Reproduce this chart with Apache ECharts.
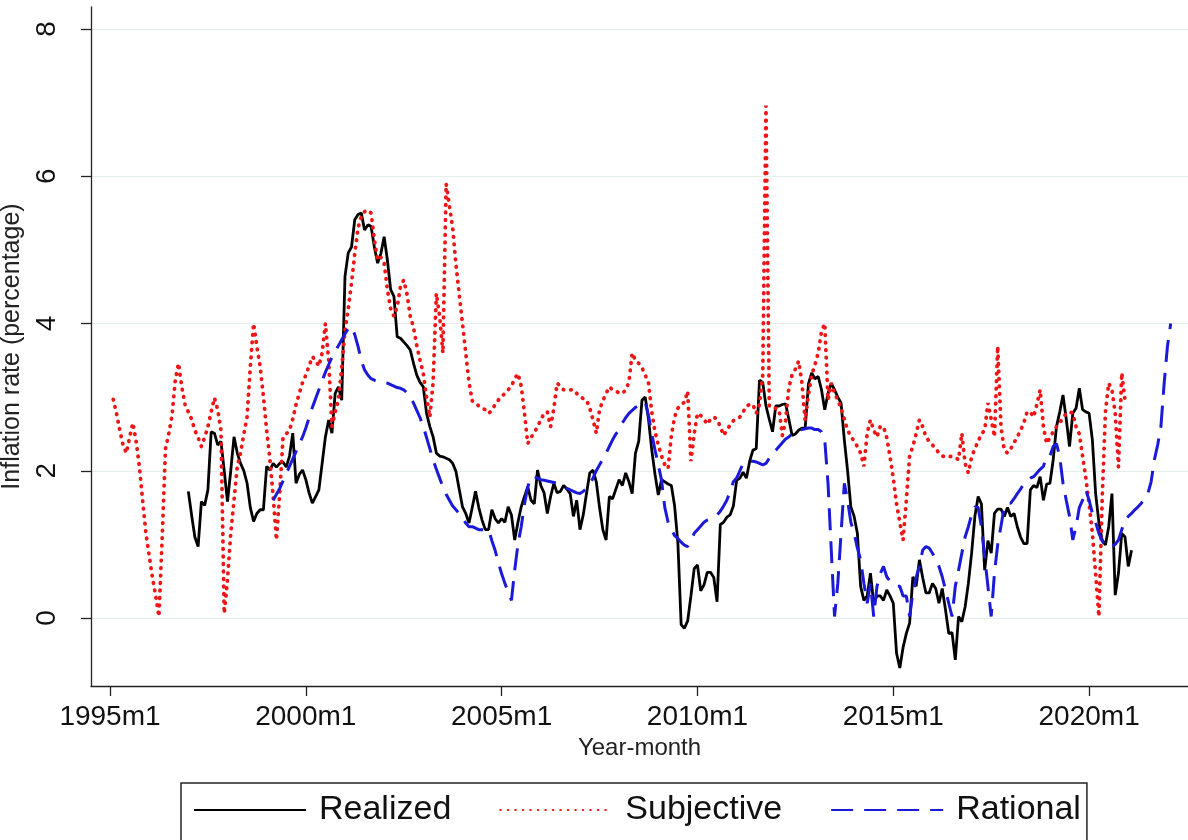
<!DOCTYPE html>
<html><head><meta charset="utf-8">
<script src="https://cdn.jsdelivr.net/npm/echarts@6/dist/echarts.min.js"></script>
<style>html,body{margin:0;padding:0;background:#fff}#c{width:1188px;height:840px}</style>
</head><body><div id="c"></div>
<script>
// x values are months since 1995m1
const xTickValues = [0, 60, 120, 180, 240, 300];
const xTickLabels = ['1995m1', '2000m1', '2005m1', '2010m1', '2015m1', '2020m1'];
const yTickValues = [0, 2, 4, 6, 8];

const realizedStart = 24; // 1997m1
const realized = [
  1.72, 1.4, 1.1, 0.97, 1.58, 1.53, 1.74, 2.53, 2.51, 2.35, 2.4, 2.0,
  1.58, 2.0, 2.46, 2.24, 2.1, 2.0, 1.83, 1.5, 1.31, 1.42, 1.47, 1.47,
  2.06, 2.01, 2.1, 2.05, 2.10, 2.12, 2.05, 2.2, 2.51, 1.83, 1.95, 2.01,
  1.88, 1.7, 1.56, 1.65, 1.74, 2.1, 2.46, 2.69, 2.51, 3.05, 3.14, 2.96,
  4.64, 4.96, 5.04, 5.41, 5.48, 5.5, 5.27, 5.34, 5.32, 5.04, 4.82, 4.95,
  5.18, 4.86, 4.46, 4.37, 3.82, 3.8, 3.75, 3.7, 3.64, 3.46, 3.3, 3.2,
  3.14, 2.78, 2.6, 2.46, 2.24, 2.2, 2.19, 2.17, 2.15, 2.1, 1.99, 1.75,
  1.51, 1.42, 1.29, 1.5, 1.72, 1.5, 1.33, 1.2, 1.2, 1.47, 1.35, 1.29,
  1.35, 1.3, 1.51, 1.4, 1.06, 1.3, 1.51, 1.65, 1.78, 1.6, 1.55, 2.01,
  1.8, 1.7, 1.42, 1.65, 1.83, 1.7, 1.72, 1.8, 1.75, 1.69, 1.38, 1.6,
  1.2, 1.4, 1.69, 1.97, 2.01, 1.85, 1.5, 1.2, 1.06, 1.65, 1.62, 1.75,
  1.88, 1.8, 1.97, 1.85, 1.69, 2.24, 2.4, 2.96, 3.0, 2.7, 2.28, 1.95,
  1.67, 1.88, 1.85, 1.82, 1.8, 1.52, 1.02, -0.09, -0.14, -0.04, 0.3, 0.67,
  0.72, 0.37, 0.45, 0.62, 0.62, 0.55, 0.22, 1.27, 1.3, 1.37, 1.4, 1.52,
  1.87, 1.9, 1.98, 1.9, 2.13, 2.28, 2.3, 3.23, 3.2, 2.88, 2.7, 2.53,
  2.88, 2.88, 2.9, 2.91, 2.7, 2.48, 2.5, 2.55, 2.58, 2.58, 3.18, 3.33,
  3.25, 3.28, 3.1, 2.83, 3.05, 3.19, 3.1, 3.0, 2.92, 2.42, 2.0, 1.51,
  1.38, 1.15, 0.43, 0.24, 0.3, 0.61, 0.2, 0.3, 0.3, 0.24, 0.38, 0.3,
  0.2, -0.48, -0.68, -0.4, -0.21, -0.07, 0.56, 0.43, 0.79, 0.55, 0.34, 0.34,
  0.47, 0.4, 0.2, 0.4, 0.11, -0.21, -0.2, -0.57, 0.02, -0.05, 0.15, 0.47,
  0.88, 1.38, 1.65, 1.55, 0.65, 1.05, 0.88, 1.42, 1.48, 1.48, 1.38, 1.5,
  1.38, 1.42, 1.24, 1.1, 1.01, 1.01, 1.74, 1.8, 1.77, 1.92, 1.6, 1.82,
  1.83, 2.15, 2.6, 2.8, 3.03, 2.7, 2.33, 2.78, 2.85, 3.12, 2.83, 2.8,
  2.78, 2.42, 1.69, 1.3, 1.06, 0.99, 1.24, 1.69, 0.31, 0.61, 1.15, 1.1,
  0.7, 0.92
];

const subjectiveStart = 1; // 1995m2
const subjective = [
  2.97, 2.78, 2.55, 2.35, 2.24, 2.45, 2.65, 2.4, 2.06, 1.6, 1.15,
  0.85, 0.55, 0.3, 0.02, 1.1, 2.3, 2.5, 2.75, 3.23, 3.46, 3.14, 2.9,
  2.8, 2.7, 2.55, 2.45, 2.33, 2.45, 2.6, 2.8, 2.99, 2.83, 2.55, 0.06,
  0.52, 1.15, 1.6, 2.06, 2.24, 2.5, 2.73, 3.42, 4.0, 3.69, 3.42, 3.01,
  2.55, 2.15, 1.65, 1.06, 1.69, 2.44, 2.5, 2.55, 2.7, 2.9, 3.05, 3.2,
  3.3, 3.42, 3.55, 3.5, 3.42, 3.6, 4.0, 3.5, 2.6, 2.8, 2.96, 3.4,
  3.9, 4.2, 4.55, 4.95, 5.3, 5.45, 5.52, 5.54, 5.5, 5.14, 4.86, 4.9,
  4.82, 4.46, 4.2, 4.1, 4.23, 4.5, 4.59, 4.4, 4.1, 3.95, 3.7, 3.5,
  3.32, 3.0, 2.73, 3.2, 4.41, 4.1, 3.6, 5.9, 5.6, 5.3, 4.8, 4.4,
  4.0, 3.6, 3.2, 2.95, 2.92, 2.88, 2.85, 2.83, 2.78, 2.82, 2.9, 2.96,
  3.01, 3.05, 3.1, 3.15, 3.25, 3.32, 3.15, 2.78, 2.37, 2.45, 2.52, 2.6,
  2.69, 2.78, 2.8, 2.6, 2.85, 3.19, 3.15, 3.1, 3.1, 3.1, 3.1, 3.05,
  3.01, 2.98, 2.96, 2.85, 2.69, 2.51, 2.83, 2.95, 3.05, 3.14, 3.1, 3.08,
  3.06, 3.05, 3.1, 3.2, 3.6, 3.5, 3.46, 3.4, 3.3, 3.19, 2.8, 2.53,
  2.35, 2.2, 2.08, 2.03, 2.48, 2.73, 2.85, 2.9, 2.93, 3.08, 2.13, 2.5,
  2.78, 2.75, 2.7, 2.63, 2.7, 2.73, 2.7, 2.6, 2.48, 2.55, 2.62, 2.68,
  2.7, 2.73, 2.8, 2.88, 2.9, 2.9, 2.78, 2.9, 3.3, 6.96, 2.88, 2.85,
  2.85, 2.83, 2.48, 2.68, 3.13, 3.3, 3.38, 3.49, 3.2, 2.68, 3.03, 3.3,
  3.44, 3.6, 3.89, 4.0, 2.96, 3.19, 3.05, 2.96, 2.85, 2.7, 2.55, 2.47,
  2.4, 2.33, 2.24, 2.06, 2.51, 2.69, 2.55, 2.46, 2.6, 2.6, 2.45, 2.19,
  1.9, 1.55, 1.3, 1.06, 1.6, 2.2, 2.33, 2.5, 2.69, 2.6, 2.46, 2.4,
  2.35, 2.3, 2.24, 2.2, 2.19, 2.2, 2.19, 2.18, 2.15, 2.51, 2.1, 1.97,
  2.19, 2.3, 2.4, 2.5, 2.55, 2.92, 2.7, 2.46, 3.69, 2.6, 2.28, 2.24,
  2.3, 2.38, 2.46, 2.55, 2.65, 2.8, 2.8, 2.73, 2.9, 3.1, 2.6, 2.37,
  2.45, 2.53, 2.6, 2.65, 2.72, 2.78, 2.8, 2.78, 2.6, 2.5, 2.2, 1.9,
  1.55, 1.15, 0.6, 0.02, 1.6, 2.8, 3.19, 3.1, 2.78, 2.05, 3.33, 2.96
];

const rationalStart = 50; // 1999m3
const rational = [
  1.6, 1.68, 1.76, 1.86, 1.96, 2.06, 2.16, 2.26, 2.36, 2.46,
  2.58, 2.72, 2.86, 2.98, 3.1, 3.22, 3.34, 3.44, 3.54, 3.62, 3.7, 3.78,
  3.86, 3.93, 3.96, 3.85, 3.69, 3.5, 3.37, 3.3, 3.25, 3.23, 3.22, 3.21,
  3.2, 3.19, 3.17, 3.15, 3.13, 3.12, 3.1, 3.06, 3.0, 2.92, 2.82, 2.72,
  2.6, 2.45, 2.3, 2.15, 2.02, 1.9, 1.78, 1.68, 1.6, 1.52, 1.47, 1.42,
  1.35, 1.29, 1.24, 1.24, 1.22, 1.2, 1.2, 1.2, 1.2, 1.05, 0.92, 0.75,
  0.6, 0.47, 0.35, 0.24, 0.65, 1.0, 1.24, 1.55, 1.78, 1.92, 1.92, 1.9,
  1.88, 1.87, 1.86, 1.85, 1.84, 1.83, 1.8, 1.78, 1.76, 1.74, 1.72, 1.7,
  1.69, 1.72, 1.76, 1.82, 1.9, 2.0, 2.08, 2.16, 2.24, 2.33, 2.42, 2.5,
  2.55, 2.65, 2.72, 2.78, 2.82, 2.86, 2.88, 2.92, 2.93, 2.75, 2.5, 2.28,
  2.08, 1.87, 1.5, 1.3, 1.2, 1.12, 1.08, 1.03, 0.99, 0.97, 1.05, 1.15,
  1.2, 1.25, 1.3, 1.33, 1.35, 1.37, 1.4, 1.45, 1.52, 1.6, 1.72, 1.85,
  1.9, 2.0, 2.1, 2.13, 2.13, 2.13, 2.12, 2.1, 2.08, 2.1, 2.17, 2.25,
  2.28, 2.33, 2.38, 2.43, 2.46, 2.5, 2.53, 2.55, 2.56, 2.57, 2.58, 2.58,
  2.56, 2.56, 2.53, 2.42, 1.83, 0.92, 0.02, 0.47, 1.15, 1.83, 1.6, 1.3,
  1.15, 0.95, 0.79, 0.47, 0.2, 0.47, 0.02, 0.43, 0.6, 0.7, 0.56, 0.5,
  0.47, 0.43, 0.43, 0.3, 0.3, 0.02, 0.34, 0.55, 0.7, 0.92, 0.97, 0.95,
  0.88, 0.8, 0.7, 0.56, 0.38, 0.2, 0.02, 0.43, 0.65, 0.88, 1.1, 1.24,
  1.4, 1.51, 1.5, 1.24, 0.83, 0.43, 0.02, 0.61, 1.0, 1.25, 1.51, 1.56,
  1.56, 1.62, 1.69, 1.75, 1.83, 1.87, 1.9, 1.92, 1.97, 2.02, 2.06, 2.2,
  2.2, 2.33, 2.37, 2.19, 1.83, 1.6, 1.38, 1.06, 1.24, 1.5, 1.6, 1.74,
  1.6, 1.42, 1.3, 1.15, 1.05, 0.97, 0.97, 0.97, 1.0, 1.06, 1.2, 1.33,
  1.38, 1.42, 1.47, 1.51, 1.56, 1.62, 1.69, 1.85, 2.15, 2.35, 2.6, 3.19,
  3.69, 4.0
];

function build(start, arr) { return arr.map((v, i) => [start + i, v]); }

const FONT = 'Liberation Sans, Arial, Helvetica, sans-serif';
const chart = echarts.init(document.getElementById('c'), null, { renderer: 'canvas' });
chart.setOption({
  animation: false,
  backgroundColor: '#ffffff',
  grid: { left: 91, right: 0, top: 7, bottom: 154, containLabel: false, outerBoundsMode: 'none' },
  xAxis: {
    type: 'value', min: -5.82, max: 330.3,
    name: 'Year-month', nameLocation: 'middle', nameGap: 50,
    nameTextStyle: { fontFamily: FONT, fontSize: 24, color: '#222' },
    axisLine: { show: true, onZero: false, lineStyle: { color: '#222', width: 1.3 } },
    axisTick: { show: true, length: 10, customValues: xTickValues, lineStyle: { color: '#222', width: 1.3 } },
    axisLabel: {
      customValues: xTickValues, margin: 17, fontFamily: FONT, fontSize: 28, color: '#111',
      formatter: v => xTickLabels[xTickValues.indexOf(v)] || ''
    },
    splitLine: { show: false }
  },
  yAxis: {
    type: 'value', min: -0.924, max: 8.3,
    name: 'Inflation rate (percentage)', nameLocation: 'middle', nameGap: 60, nameRotate: 90,
    nameTextStyle: { fontFamily: FONT, fontSize: 25, color: '#222' },
    axisLine: { show: true, onZero: false, lineStyle: { color: '#222', width: 1.3 } },
    axisTick: { show: true, length: 10, customValues: yTickValues, lineStyle: { color: '#222', width: 1.3 } },
    axisLabel: { customValues: yTickValues, rotate: 90, margin: 30, fontFamily: FONT, fontSize: 28, color: '#111' },
    splitLine: { show: true, lineStyle: { color: '#e4ecee', width: 1.2 } }
  },
  legend: {
    left: 181, top: 783,
    padding: [10, 6, 40, 12],
    borderColor: '#222', borderWidth: 1.5,
    itemWidth: 112, itemHeight: 14, itemGap: 48,
    itemStyle: { opacity: 0 },
    textStyle: { fontFamily: FONT, fontSize: 34, color: '#111', padding: [0, 0, 0, 8] },
    data: ['Realized', 'Subjective', 'Rational']
  },
  series: [
    {
      name: 'Realized', type: 'line', data: build(realizedStart, realized),
      showSymbol: false, symbol: 'none', z: 2,
      lineStyle: { color: '#000000', width: 2.8, type: 'solid' },
      itemStyle: { color: '#000000' }
    },
    {
      name: 'Subjective', type: 'line', data: build(subjectiveStart, subjective),
      showSymbol: false, symbol: 'none', z: 3,
      lineStyle: { color: '#ee1515', width: 3.8, type: [0.5, 7], cap: 'round' },
      itemStyle: { color: '#ee1515' }
    },
    {
      name: 'Rational', type: 'line', data: build(rationalStart, rational),
      showSymbol: false, symbol: 'none', z: 4,
      lineStyle: { color: '#1a1ad8', width: 3, type: [22, 11] },
      itemStyle: { color: '#1a1ad8' }
    }
  ]
});
</script>
</body></html>
